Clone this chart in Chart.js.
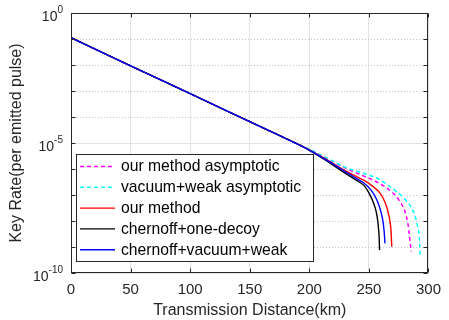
<!DOCTYPE html>
<html>
<head>
<meta charset="utf-8">
<script src="https://cdn.jsdelivr.net/npm/chart.js@4.4.1/dist/chart.umd.min.js"></script>
<style>
  html, body { margin: 0; padding: 0; background: #fff; }
  #wrap { width: 449px; height: 320px; }
</style>
</head>
<body>
<div id="wrap"><canvas id="rateChart"></canvas></div>
<script>
// distances (km) and key rates
const kmCommon = [0, 50, 100, 150, 180];
const rateCommon = [1.12e-1, 9.33e-3, 7.94e-4, 6.61e-5, 1.51e-5];

const kmOurAsym = [...kmCommon, 200, 215, 230, 246, 254, 262, 270.4, 275, 278.6, 281, 282.7, 284.1, 285.5];
const rateOurAsym = [...rateCommon, 5.62e-6, 2.51e-6, 1.10e-6, 5.25e-7, 3.63e-7, 2.29e-7, 1.17e-7, 6.61e-8, 3.55e-8, 1.78e-8, 8.13e-9, 2.51e-9, 6.61e-10];

const kmVacAsym = [...kmCommon, 200, 215, 230, 246, 258, 266, 273.1, 279, 284.1, 287.5, 289.6, 291.3, 292.3, 292.9];
const rateVacAsym = [...rateCommon, 5.75e-6, 2.63e-6, 1.17e-6, 6.76e-7, 4.17e-7, 2.40e-7, 1.35e-7, 7.94e-8, 4.17e-8, 2.19e-8, 1.10e-8, 5.01e-9, 2.51e-9, 4.90e-10];

const kmOur = [...kmCommon, 200, 215, 230, 240, 246, 253, 259.5, 263.5, 266.3, 268.5, 269.2];
const rateOur = [...rateCommon, 5.50e-6, 2.24e-6, 8.71e-7, 5.01e-7, 3.63e-7, 2.19e-7, 1.15e-7, 5.25e-8, 2.00e-8, 4.47e-9, 1.02e-9];

const kmOneDecoy = [...kmCommon, 200, 215, 230, 240, 246, 250, 254, 256, 257.3, 258.2, 258.7, 258.9];
const rateOneDecoy = [...rateCommon, 5.25e-6, 2.00e-6, 6.92e-7, 3.55e-7, 2.29e-7, 1.20e-7, 4.79e-8, 2.40e-8, 1.10e-8, 4.47e-9, 1.78e-9, 7.59e-10];

const kmVacWeak = [...kmCommon, 200, 215, 230, 240, 246, 252, 256.7, 259.5, 261.6, 262.8, 263.5];
const rateVacWeak = [...rateCommon, 5.37e-6, 2.14e-6, 7.94e-7, 4.17e-7, 2.82e-7, 1.51e-7, 6.46e-8, 2.82e-8, 1.10e-8, 3.98e-9, 1.38e-9];

const seriesLabels = ['our method asymptotic', 'vacuum+weak asymptotic', 'our method', 'chernoff+one-decoy', 'chernoff+vacuum+weak'];
const xTicks = [0, 50, 100, 150, 200, 250, 300];
const yDecades = [0, -1, -2, -3, -4, -5, -6, -7, -8, -9, -10];
const yLabelExps = [0, -5, -10];

const FONT = '"Liberation Sans", Arial, Helvetica, sans-serif';
const AXIS_COLOR = '#262626';

const toPoints = (xs, ys) => xs.map((x, i) => ({ x: x, y: ys[i] }));

// dotted minor grid at the decades that carry no label
const minorGrid = {
  id: 'minorGrid',
  beforeDatasetsDraw(chart) {
    const { ctx, chartArea, scales } = chart;
    ctx.save();
    ctx.strokeStyle = '#c4c4c4';
    ctx.lineWidth = 1;
    ctx.setLineDash([1, 2]);
    yDecades.filter(e => e % 5 !== 0).forEach(e => {
      const y = Math.round(scales.y.getPixelForValue(Math.pow(10, e))) + 0.5;
      ctx.beginPath();
      ctx.moveTo(chartArea.left, y);
      ctx.lineTo(chartArea.right, y);
      ctx.stroke();
    });
    ctx.restore();
  }
};

// box round the axes with inward ticks, and the 10^n labels
const axesBox = {
  id: 'axesBox',
  afterDatasetsDraw(chart) {
    const { ctx, chartArea, scales } = chart;
    const l = Math.round(chartArea.left) + 0.5, r = Math.round(chartArea.right) - 0.5;
    const t = Math.round(chartArea.top) + 0.5, b = Math.round(chartArea.bottom) - 0.5;
    ctx.save();
    ctx.strokeStyle = AXIS_COLOR;
    ctx.lineWidth = 1;
    ctx.strokeRect(l, t, r - l, b - t);
    ctx.beginPath();
    xTicks.forEach(v => {
      const x = Math.round(scales.x.getPixelForValue(v)) + 0.5;
      ctx.moveTo(x, b); ctx.lineTo(x, b - 4);
      ctx.moveTo(x, t); ctx.lineTo(x, t + 4);
    });
    yDecades.forEach(e => {
      const y = Math.round(scales.y.getPixelForValue(Math.pow(10, e))) + 0.5;
      ctx.moveTo(l, y); ctx.lineTo(l + 4, y);
      ctx.moveTo(r, y); ctx.lineTo(r - 4, y);
    });
    ctx.stroke();

    ctx.fillStyle = AXIS_COLOR;
    ctx.textAlign = 'right';
    ctx.textBaseline = 'middle';
    yLabelExps.forEach(e => {
      const y = scales.y.getPixelForValue(Math.pow(10, e));
      const right = chartArea.left - 8;
      ctx.font = '10px ' + FONT;
      const expText = String(e);
      const w = ctx.measureText(expText).width;
      ctx.fillText(expText, right, y - 3);
      ctx.font = '14px ' + FONT;
      ctx.fillText('10', right - w, y + 4.5);
    });
    ctx.restore();
  }
};

// legend drawn inside the axes, lower left
const insideLegend = {
  id: 'insideLegend',
  afterDraw(chart) {
    const ctx = chart.ctx;
    ctx.save();
    ctx.fillStyle = '#fff';
    ctx.fillRect(76.5, 154.5, 237, 107);
    ctx.strokeStyle = AXIS_COLOR;
    ctx.lineWidth = 1;
    ctx.strokeRect(76.5, 154.5, 237, 107);
    chart.data.datasets.forEach((ds, i) => {
      const y = 166.5 + i * 20.8;
      ctx.beginPath();
      ctx.setLineDash(ds.borderDash || []);
      ctx.strokeStyle = ds.borderColor;
      ctx.lineWidth = ds.borderWidth;
      ctx.moveTo(80, y);
      ctx.lineTo(115, y);
      ctx.stroke();
      ctx.setLineDash([]);
      ctx.fillStyle = '#000';
      ctx.font = '15.7px ' + FONT;
      ctx.textAlign = 'left';
      ctx.textBaseline = 'middle';
      ctx.fillText(ds.label, 121, y + 0.5);
    });
    ctx.restore();
  }
};

const lineSet = (label, xs, ys, color, dashed, order) => ({
  label: label,
  data: toPoints(xs, ys),
  borderColor: color,
  backgroundColor: color,
  borderWidth: dashed ? 1.5 : 1.4,
  borderDash: dashed ? [4, 3] : [],
  pointRadius: 0,
  fill: false,
  cubicInterpolationMode: 'monotone',
  order: order
});

new Chart(document.getElementById('rateChart'), {
  type: 'line',
  data: {
    datasets: [
      lineSet(seriesLabels[0], kmOurAsym, rateOurAsym, '#ff00ff', true, 5),
      lineSet(seriesLabels[1], kmVacAsym, rateVacAsym, '#00ffff', true, 4),
      lineSet(seriesLabels[2], kmOur, rateOur, '#ff0000', false, 3),
      lineSet(seriesLabels[3], kmOneDecoy, rateOneDecoy, '#000000', false, 2),
      lineSet(seriesLabels[4], kmVacWeak, rateVacWeak, '#0000ff', false, 1)
    ]
  },
  options: {
    responsive: true,
    maintainAspectRatio: false,
    animation: false,
    layout: { padding: { left: 0, top: 13, right: 13, bottom: 0 } },
    plugins: {
      legend: { display: false },
      tooltip: { enabled: false }
    },
    scales: {
      x: {
        type: 'linear',
        min: 0,
        max: 300,
        afterBuildTicks: scale => { scale.ticks = xTicks.map(v => ({ value: v })); },
        afterFit: scale => { scale.height = 47; },
        ticks: {
          color: AXIS_COLOR,
          font: { family: FONT, size: 15 },
          padding: 8,
          maxRotation: 0
        },
        grid: { color: '#e3e3e3', drawTicks: false },
        border: { display: false },
        title: {
          display: true,
          text: 'Transmission Distance(km)',
          color: AXIS_COLOR,
          font: { family: FONT, size: 16 },
          padding: { top: 0, bottom: 0 }
        }
      },
      y: {
        type: 'logarithmic',
        min: 1e-10,
        max: 1,
        afterBuildTicks: scale => { scale.ticks = yDecades.map(e => ({ value: Math.pow(10, e) })); },
        afterFit: scale => { scale.width = 71; },
        ticks: { display: false },
        grid: {
          drawTicks: false,
          color: ctx => (Math.round(Math.log10(ctx.tick.value)) % 5 === 0 ? '#e3e3e3' : 'rgba(0,0,0,0)')
        },
        border: { display: false },
        title: {
          display: true,
          text: 'Key Rate(per emitted pulse)',
          color: AXIS_COLOR,
          font: { family: FONT, size: 16 },
          padding: { top: 7, bottom: 7 }
        }
      }
    }
  },
  plugins: [minorGrid, axesBox, insideLegend]
});
</script>
</body>
</html>
